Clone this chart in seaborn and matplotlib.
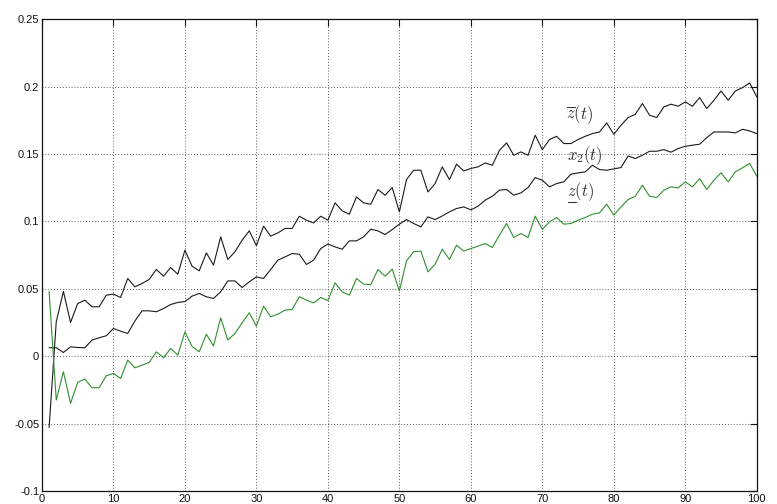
import numpy as np
import pandas as pd
import matplotlib
matplotlib.use("Agg")
import matplotlib.pyplot as plt
from matplotlib.lines import Line2D
import seaborn as sns

t = list(range(1, 101))

z_upper = [
    -0.053, 0.0255, 0.048, 0.025, 0.039, 0.0415, 0.0366, 0.0366, 0.0452, 0.046,
    0.0435, 0.0576, 0.0514, 0.0539, 0.0569, 0.0643, 0.0593, 0.0657, 0.0608, 0.0786,
    0.0667, 0.0633, 0.0766, 0.0675, 0.0885, 0.0717, 0.0774, 0.086, 0.0929, 0.082,
    0.0964, 0.089, 0.0914, 0.0947, 0.0947, 0.1038, 0.1008, 0.0988, 0.1038, 0.1008,
    0.1137, 0.1078, 0.1053, 0.1181, 0.1137, 0.1127, 0.1236, 0.1194, 0.1251, 0.107,
    0.131, 0.1379, 0.1379, 0.1218, 0.128, 0.1404, 0.131, 0.1424, 0.1374, 0.1392,
    0.1404, 0.1433, 0.1416, 0.1527, 0.1582, 0.149, 0.1515, 0.149, 0.1639, 0.1532,
    0.1607, 0.1631, 0.1577, 0.1577, 0.1607, 0.1631, 0.1651, 0.1663, 0.173, 0.1646,
    0.1713, 0.177, 0.1794, 0.1874, 0.1787, 0.177, 0.1849, 0.1869, 0.1854, 0.1886,
    0.1854, 0.1918, 0.1837, 0.1898, 0.1967, 0.1898, 0.1967, 0.1992, 0.2027, 0.1923,
]

x2 = [
    0.0062, 0.0062, 0.0027, 0.0069, 0.0064, 0.0062, 0.0119, 0.0136, 0.0151, 0.0205,
    0.0185, 0.0168, 0.026, 0.0336, 0.0336, 0.0329, 0.0353, 0.0383, 0.0398, 0.0405,
    0.0445, 0.0465, 0.044, 0.0428, 0.0477, 0.0558, 0.0558, 0.0509, 0.0551, 0.0588,
    0.0576, 0.0643, 0.0712, 0.0736, 0.0761, 0.0756, 0.068, 0.0712, 0.0798, 0.0832,
    0.081, 0.0793, 0.0855, 0.0855, 0.0885, 0.0942, 0.0929, 0.0902, 0.0939, 0.0979,
    0.1013, 0.0984, 0.0959, 0.1033, 0.1013, 0.104, 0.107, 0.1095, 0.1107, 0.1085,
    0.1112, 0.1157, 0.1186, 0.1231, 0.1236, 0.1194, 0.1211, 0.1251, 0.1325, 0.1305,
    0.1256, 0.128, 0.1293, 0.135, 0.1359, 0.1367, 0.1416, 0.1384, 0.1379, 0.1389,
    0.1399, 0.1485, 0.1466, 0.149, 0.152, 0.152, 0.1532, 0.1513, 0.154, 0.1557,
    0.1565, 0.1572, 0.1621, 0.1663, 0.1663, 0.1663, 0.1656, 0.1683, 0.1671, 0.1651,
]

z_lower = [
    0.048, -0.0326, -0.0116, -0.035, -0.0195, -0.017, -0.0235, -0.0235, -0.0146, -0.0128,
    -0.0166, -0.003, -0.0087, -0.0067, -0.0047, 0.0032, -0.0012, 0.0057, 0.0007, 0.018,
    0.0072, 0.0032, 0.0162, 0.0075, 0.0284, 0.0119, 0.0168, 0.0247, 0.0321, 0.0222,
    0.0371, 0.0292, 0.0311, 0.0341, 0.0346, 0.044, 0.0415, 0.0395, 0.0435, 0.0412,
    0.0544, 0.0477, 0.0452, 0.0576, 0.0534, 0.053, 0.0643, 0.0593, 0.0645, 0.0484,
    0.0707, 0.0774, 0.0779, 0.0625, 0.0682, 0.0793, 0.0717, 0.0823, 0.0779, 0.0798,
    0.0816, 0.0835, 0.0806, 0.0897, 0.0984, 0.088, 0.091, 0.088, 0.1038, 0.094,
    0.0996, 0.1028, 0.0979, 0.0984, 0.1008, 0.1028, 0.1053, 0.1063, 0.1127, 0.1046,
    0.1107, 0.1162, 0.1186, 0.1268, 0.1186, 0.1177, 0.1231, 0.1256, 0.1248, 0.1293,
    0.1256, 0.1317, 0.1236, 0.1305, 0.136, 0.1293, 0.1367, 0.1397, 0.1429, 0.1335,
]

x_ticks = [0, 10, 20, 30, 40, 50, 60, 70, 80, 90, 100]
y_ticks = [-0.1, -0.05, 0, 0.05, 0.1, 0.15, 0.2, 0.25]
y_tick_labels = ["-0.1", "-0.05", "0", "0.05", "0.1", "0.15", "0.2", "0.25"]

sns.set_style("white")
plt.rcParams["font.family"] = ["Liberation Sans", "DejaVu Sans"]
plt.rcParams["mathtext.fontset"] = "cm"

fig = plt.figure(figsize=(7.77, 5.04), dpi=100)
ax = fig.add_axes([0.054, 0.026, 0.920, 0.936])

df = pd.DataFrame({"t": t, "zu": z_upper, "x2": x2, "zl": z_lower})
sns.lineplot(data=df, x="t", y="zu", color="#1a1a1a", lw=0.8, ax=ax)
sns.lineplot(data=df, x="t", y="x2", color="#1a1a1a", lw=0.8, ax=ax)
sns.lineplot(data=df, x="t", y="zl", color="#2f8f2f", lw=0.8, ax=ax)

ax.set_xlim(0, 100)
ax.set_ylim(-0.1, 0.25)
ax.set_xticks(x_ticks)
ax.set_xticklabels([str(v) for v in x_ticks])
ax.set_yticks(y_ticks)
ax.set_yticklabels(y_tick_labels)
ax.set_xlabel("")
ax.set_ylabel("")

ax.grid(True, color="#222222", linestyle=(0, (1, 2.5)), lw=0.6)
ax.tick_params(direction="in", length=5, width=0.8, top=True, right=True,
               labelsize=8, colors="#111111", pad=2)
for s in ax.spines.values():
    s.set_visible(True)
    s.set_color("#111111")
    s.set_linewidth(0.9)

label_color = "#333333"
ax.text(75.2, 0.179, r"$\overline{z}(t)$", fontsize=12, ha="center", va="center", color=label_color)
ax.text(76.0, 0.149, r"$x_2(t)$", fontsize=12, ha="center", va="center", color=label_color)
zl_txt = ax.text(75.4, 0.122, r"$z(t)$", fontsize=12, ha="center", va="center", color=label_color)

# underline the z of the lower-bound label
fig.canvas.draw()
bb = zl_txt.get_window_extent(renderer=fig.canvas.get_renderer())
inv = fig.transFigure.inverted()
x0, y0 = inv.transform((bb.x0 + 0.5, bb.y0 + 1.5))
x1, _ = inv.transform((bb.x0 + 0.30 * bb.width, bb.y0 + 1.5))
fig.add_artist(Line2D([x0, x1], [y0, y0], transform=fig.transFigure,
                      color=label_color, lw=0.8))

fig.savefig("out.png", dpi=100)
